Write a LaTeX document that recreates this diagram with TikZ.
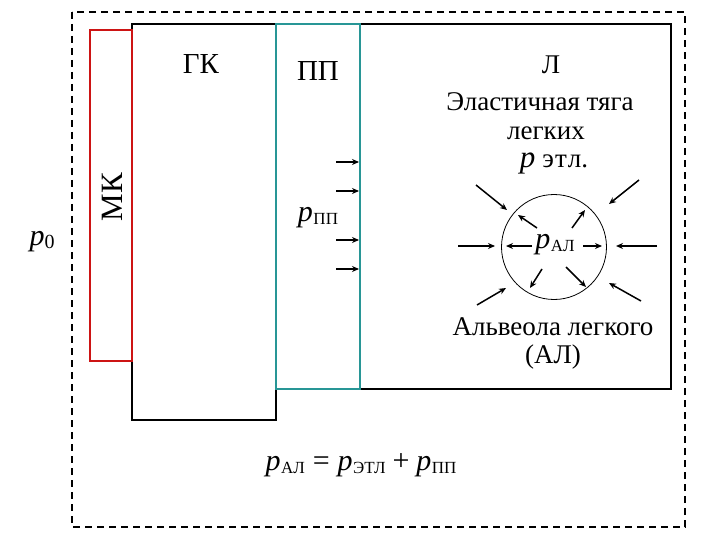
\documentclass[tikz,border=0pt]{standalone}
\usepackage{fontspec}
\setmainfont{Liberation Serif}
\usetikzlibrary{arrows.meta}
\definecolor{mkred}{RGB}{205,20,20}
\definecolor{ppteal}{RGB}{40,150,150}
\newcommand{\pv}[2][30]{{\fontsize{#1}{#1}\selectfont\itshape p}\kern0.5pt\raisebox{-3pt}{\fontsize{17}{17}\selectfont #2}}
\tikzset{
  outer/.style={line width=1.8pt, dash pattern=on 7pt off 5pt},
  blackbox/.style={draw=black, line width=2.4pt},
  tealbox/.style={draw=ppteal, line width=2.4pt},
  redbox/.style={draw=mkred, line width=2pt},
  lbl/.style={font=\fontsize{27}{29}\selectfont, inner sep=0pt, align=center},
  arr/.style={-{Stealth[length=7pt,width=6pt]}, line width=1.5pt},
}
\begin{document}
\begin{tikzpicture}[x=1pt,y=-1pt]
\useasboundingbox (0,0) rectangle (720,540);
\draw[outer] (72,12) rectangle (685,527);
\draw[blackbox] (360,24) rectangle (671,389);
\draw[blackbox] (132,24) rectangle (276,420);
\draw[tealbox] (276,24) rectangle (360,389);
\draw[redbox] (90,30) rectangle (132,361);
% labels
\node[lbl, font=\fontsize{29}{30}\selectfont] (gk) at (201,64) {ГК};
\node[lbl, font=\fontsize{29}{30}\selectfont] (pp) at (318,71) {ПП};
\node[lbl, font=\fontsize{31}{32}\selectfont, rotate=90] (mk) at (112,197) {МК};
\node[inner sep=0pt] (p0) at (42,242) {{\fontsize{30}{30}\selectfont\itshape p}\raisebox{-3pt}{\fontsize{20}{20}\selectfont 0}};
\node[lbl] (l) at (551,65) {Л};
\node[lbl] (el1) at (540,102) {Эластичная тяга};
\node[lbl] (el2) at (546,133) {легких};
\node[inner sep=0pt] (el3) at (554,163) {{\fontsize{31}{31}\selectfont\itshape p}\hspace{7pt}{\fontsize{27}{27}\selectfont э\kern1ptт\kern1ptл.}};
\node[inner sep=0pt] (ppp) at (318,218) {\pv{ПП}};
% arrows in PP
\foreach \yy in {162,191,240,269}{\draw[arr] (336,\yy) -- (359,\yy);}
% alveola
\node[draw, circle, line width=0.8pt, minimum size=105pt, inner sep=0pt] (alv) at (554,247) {};
\node[inner sep=0pt] (pal) at (555,245) {\pv{АЛ}};
% outer arrows
\draw[arr] (458,246) -- (495,246);
\draw[arr] (657,246) -- (616,246);
\draw[arr] (476,185) -- (507,210);
\draw[arr] (639,180) -- (609,204);
\draw[arr] (477,305) -- (506,288);
\draw[arr] (641,301) -- (609,283);
% inner arrows
\draw[arr] (532,246) -- (506,246);
\draw[arr] (583,246) -- (602,246);
\draw[arr] (537,228) -- (518,215);
\draw[arr] (572,228) -- (585,210);
\draw[arr] (542,269) -- (530,288);
\draw[arr] (566,267) -- (586,287);
\node[lbl] (alv1) at (553,327) {Альвеола легкого};
\node[lbl] (alv2) at (553,357) {(АЛ)};
\node[inner sep=0pt] (eq) at (361,465) {\pv{АЛ}\hspace{8pt}{\fontsize{30}{30}\selectfont =}\hspace{8pt}\pv{ЭТЛ}\hspace{7pt}{\fontsize{30}{30}\selectfont +}\hspace{7pt}\pv{ПП}};
\end{tikzpicture}
\end{document}
